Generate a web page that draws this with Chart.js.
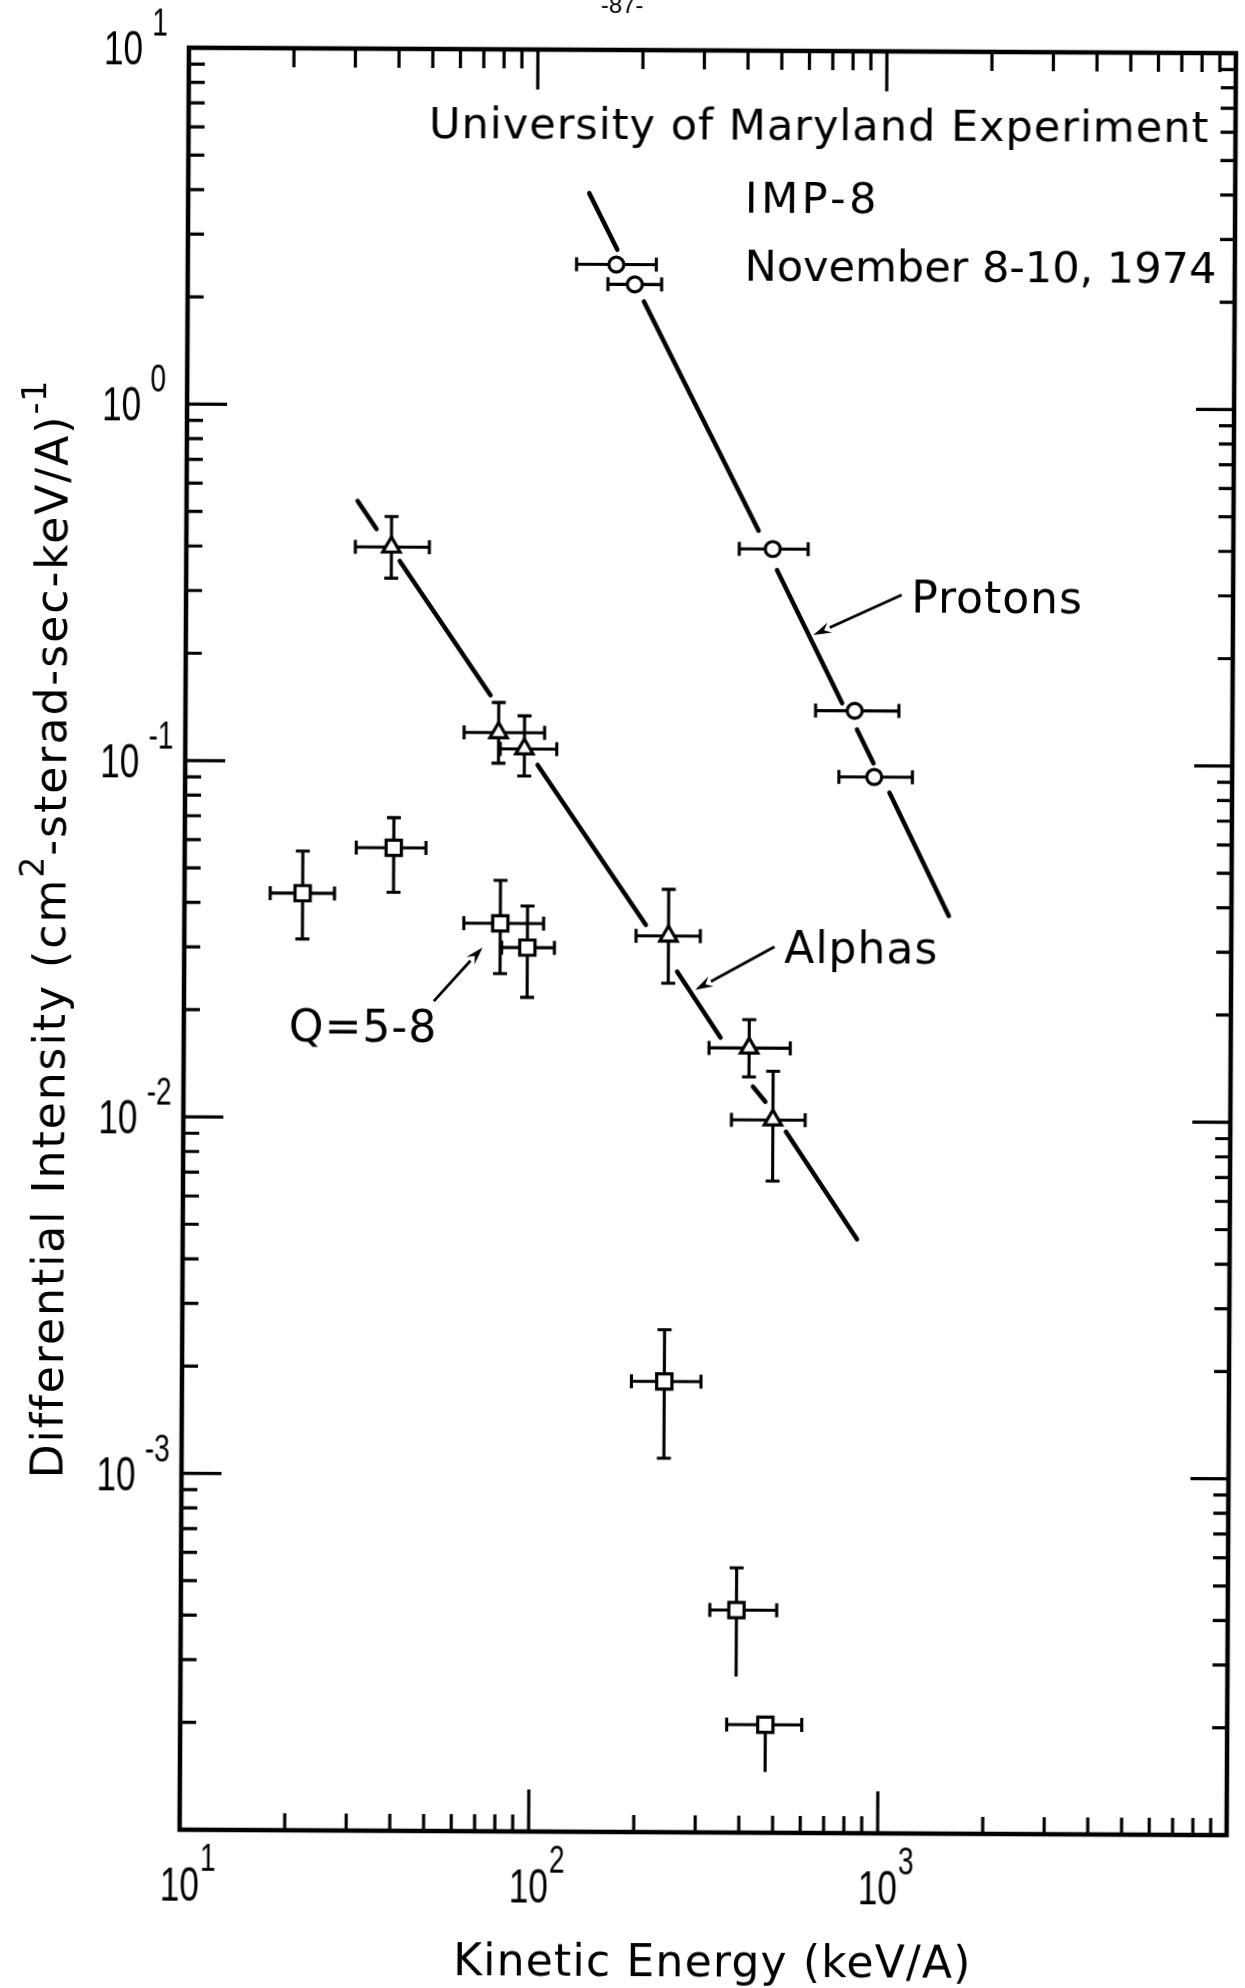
<!DOCTYPE html>
<html>
<head>
<meta charset="utf-8">
<script src="https://cdn.jsdelivr.net/npm/chart.js@4.4.1/dist/chart.umd.min.js"></script>
<style>
  html, body { margin: 0; padding: 0; background: #fff; }
  #wrap { width: 1245px; height: 1988px; overflow: hidden; position: relative; background: #fff; }
  #c { display: block; transform: rotate(0.3deg); transform-origin: 622.5px 994px; }
</style>
</head>
<body>
<div id="wrap"><canvas id="c" width="1245" height="1988"></canvas></div>
<script>
// ---------------- data ----------------
// Protons (circles): kinetic energy (keV/A), intensity, energy bin edges
const protonEnergy    = [169, 191, 479, 827, 943];
const protonIntensity = [2.5, 2.2, 0.40, 0.141, 0.092];
const protonEnergyLo  = [130, 160, 384, 639, 747];
const protonEnergyHi  = [220, 228, 605, 1107, 1213];

// Alphas (triangles)
const alphaEnergy      = [38.7, 79, 93.7, 244, 417, 489];
const alphaIntensity   = [0.40, 0.121, 0.109, 0.0327, 0.0159, 0.0100];
const alphaEnergyLo    = [30.5, 62.9, 79.9, 197, 320, 372];
const alphaEnergyHi    = [49.7, 107, 116, 301, 547, 605];
const alphaIntensityLo = [0.327, 0.0993, 0.0915, 0.0241, 0.0132, 0.00674];
const alphaIntensityHi = [0.487, 0.147, 0.135, 0.0442, 0.0191, 0.0137];

// Q = 5-8 ions (squares)
const heavyEnergy      = [21.8, 39.7, 80.4, 96.2, 241, 391, 475];
const heavyIntensity   = [0.0426, 0.0573, 0.0353, 0.0302, 0.00184, 0.000421, 0.000201];
const heavyEnergyLo    = [17.6, 31.0, 63.2, 81.2, 194, 328, 368];
const heavyEnergyHi    = [26.9, 49.1, 107, 115, 307, 510, 604];
const heavyIntensityLo = [0.0317, 0.0430, 0.0255, 0.0219, 0.00112, 0.000274, 0.000148];
const heavyIntensityHi = [0.0559, 0.0696, 0.0466, 0.0395, 0.00257, 0.000553, null];
const heavyLowCap      = [true, true, true, true, true, false, false];

// Power-law fits, drawn as broken segments [x1, y1, x2, y2]
const protonFitSegments = [[141, 3.96, 170, 2.75], [203, 1.97, 436, 0.450], [493, 0.349, 761, 0.148],
                           [840, 0.125, 938, 0.1005], [1043, 0.0832, 1550, 0.0376]];
const alphaFitSegments  = [[30.9, 0.538, 35.05, 0.449], [40.9, 0.3655, 74.8, 0.154], [102.3, 0.0983, 210, 0.0351],
                           [258.5, 0.026, 345, 0.0170], [428, 0.0124, 465, 0.01125], [533, 0.00928, 855, 0.00464]];

// Labels with pointer arrows
const seriesLabels   = ['Protons', 'Alphas', 'Q=5-8'];
const seriesLabelAt  = [[1196, 0.2675], [524, 0.0276], [20.0, 0.0164]];
const arrowTails     = [[1123, 0.2985], [491, 0.0306], [52.0, 0.0213]];
const arrowHeads     = [[628, 0.2298], [291.5, 0.0231], [71.6, 0.0302]];

// Header block
const headerLines   = ['University of Maryland Experiment', 'IMP-8', 'November 8-10, 1974'];
const headerAt      = [[8414, 5.63], [394, 3.50], [394, 2.27]];
const headerAlign   = ['right', 'left', 'left'];
const headerSpacing = ['1px', '3.5px', '0px'];

// Axes
const xRange = [10, 10000];
const yRange = [1e-4, 10];
const xDecades = [10, 100, 1000];
const yDecades = [1e-4, 1e-3, 1e-2, 1e-1, 1];
const tickMantissas = [1, 2, 3, 4, 5, 6, 7, 8, 9];
const xTickValues = [10, 100, 1000];
const xTickExponents = ['1', '2', '3'];
const yTickValues = [10, 1, 0.1, 0.01, 0.001];
const yTickExponents = ['1', '0', '-1', '-2', '-3'];
const xTitle = 'Kinetic Energy (keV/A)';
const yTitleParts = [['Differential Intensity (cm', false], ['2', true], ['-sterad-sec-keV/A)', false], ['-1', true]];
const pageMark = '-87-';

// ---------------- helpers ----------------
const WORD_FONT = '"DejaVu Sans", "Liberation Sans", sans-serif';
const NUM_FONT = '"Liberation Sans", "DejaVu Sans", sans-serif';

function toPoints(xs, ys) { return xs.map((x, i) => ({ x: x, y: ys[i] })); }
function segmentsToPoints(segs) {
  const pts = [];
  segs.forEach((s, i) => {
    if (i > 0) pts.push({ x: s[0], y: null });
    pts.push({ x: s[0], y: s[1] });
    pts.push({ x: s[2], y: s[3] });
  });
  return pts;
}

function drawText(ctx, str, px, py, opt) {
  ctx.save();
  ctx.font = opt.font;
  ctx.letterSpacing = opt.spacing || '0px';
  ctx.textAlign = 'left';
  ctx.textBaseline = 'alphabetic';
  ctx.fillStyle = '#000';
  const sx = opt.sx || 1;
  const w = ctx.measureText(str).width * sx;
  let x0 = px;
  if (opt.align === 'right') x0 = px - w;
  else if (opt.align === 'center') x0 = px - w / 2;
  ctx.translate(x0, py);
  ctx.scale(sx, 1);
  ctx.fillText(str, 0, 0);
  ctx.restore();
  return w;
}

function textWidth(ctx, str, opt) {
  ctx.save();
  ctx.font = opt.font;
  ctx.letterSpacing = opt.spacing || '0px';
  const w = ctx.measureText(str).width * (opt.sx || 1);
  ctx.restore();
  return w;
}

// ---------------- plugins ----------------
const errorSets = [
  { xs: protonEnergy, ys: protonIntensity, xLo: protonEnergyLo, xHi: protonEnergyHi, yLo: null, yHi: null, lowCap: null },
  { xs: alphaEnergy, ys: alphaIntensity, xLo: alphaEnergyLo, xHi: alphaEnergyHi, yLo: alphaIntensityLo, yHi: alphaIntensityHi, lowCap: null },
  { xs: heavyEnergy, ys: heavyIntensity, xLo: heavyEnergyLo, xHi: heavyEnergyHi, yLo: heavyIntensityLo, yHi: heavyIntensityHi, lowCap: heavyLowCap }
];

const errorBars = {
  id: 'errorBars',
  beforeDatasetsDraw(chart) {
    const { ctx, scales: { x, y } } = chart;
    const cap = 7;
    ctx.save();
    ctx.strokeStyle = '#000';
    ctx.lineWidth = 3.1;
    ctx.lineCap = 'butt';
    errorSets.forEach(set => {
      set.xs.forEach((xv, i) => {
        const px = x.getPixelForValue(xv);
        const py = y.getPixelForValue(set.ys[i]);
        const xl = x.getPixelForValue(set.xLo[i]);
        const xh = x.getPixelForValue(set.xHi[i]);
        ctx.beginPath();
        ctx.moveTo(xl, py); ctx.lineTo(xh, py);
        ctx.moveTo(xl, py - cap); ctx.lineTo(xl, py + cap);
        ctx.moveTo(xh, py - cap); ctx.lineTo(xh, py + cap);
        if (set.yHi && set.yHi[i] != null) {
          const yh = y.getPixelForValue(set.yHi[i]);
          ctx.moveTo(px, py); ctx.lineTo(px, yh);
          ctx.moveTo(px - cap, yh); ctx.lineTo(px + cap, yh);
        }
        if (set.yLo && set.yLo[i] != null) {
          const yl = y.getPixelForValue(set.yLo[i]);
          ctx.moveTo(px, py); ctx.lineTo(px, yl);
          if (!set.lowCap || set.lowCap[i]) {
            ctx.moveTo(px - cap, yl); ctx.lineTo(px + cap, yl);
          }
        }
        ctx.stroke();
      });
    });
    ctx.restore();
  }
};

const frameAndTicks = {
  id: 'frameAndTicks',
  afterDatasetsDraw(chart) {
    const { ctx, chartArea: a, scales: { x, y } } = chart;
    ctx.save();
    ctx.strokeStyle = '#000';
    ctx.lineCap = 'butt';
    ctx.lineWidth = 3.2;
    ctx.beginPath();
    xDecades.forEach(d => tickMantissas.forEach(m => {
      const v = d * m;
      if (v <= xRange[0] || v >= xRange[1]) return;
      const px = x.getPixelForValue(v);
      const major = m === 1;
      ctx.moveTo(px, a.bottom); ctx.lineTo(px, a.bottom - (major ? 42 : 17));
      ctx.moveTo(px, a.top); ctx.lineTo(px, a.top + (major ? 40 : 19));
    }));
    yDecades.forEach(d => tickMantissas.forEach(m => {
      const v = d * m;
      if (v <= yRange[0] * 1.0001 || v >= yRange[1] * 0.9999) return;
      const py = y.getPixelForValue(v);
      const major = m === 1;
      ctx.moveTo(a.left, py); ctx.lineTo(a.left + (major ? 40 : 16), py);
      ctx.moveTo(a.right, py); ctx.lineTo(a.right - (major ? 38 : 15), py);
    }));
    ctx.stroke();
    ctx.lineWidth = 4.5;
    ctx.strokeRect(a.left, a.top, a.right - a.left, a.bottom - a.top);
    ctx.restore();
  }
};

const arrowsAndText = {
  id: 'arrowsAndText',
  afterDraw(chart) {
    const { ctx, chartArea: a, scales: { x, y } } = chart;

    // pointer arrows
    ctx.save();
    ctx.strokeStyle = '#000';
    ctx.fillStyle = '#000';
    ctx.lineWidth = 2.8;
    arrowTails.forEach((t, i) => {
      const x1 = x.getPixelForValue(t[0]), y1 = y.getPixelForValue(t[1]);
      const x2 = x.getPixelForValue(arrowHeads[i][0]), y2 = y.getPixelForValue(arrowHeads[i][1]);
      const ang = Math.atan2(y2 - y1, x2 - x1);
      const L = 18, W = 5.5;
      const bx = x2 - L * Math.cos(ang), by = y2 - L * Math.sin(ang);
      ctx.beginPath();
      ctx.moveTo(x1, y1); ctx.lineTo(bx, by);
      ctx.stroke();
      ctx.beginPath();
      ctx.moveTo(x2, y2);
      ctx.lineTo(bx + W * Math.sin(ang), by - W * Math.cos(ang));
      ctx.lineTo(bx + 0.35 * L * Math.cos(ang), by + 0.35 * L * Math.sin(ang));
      ctx.lineTo(bx - W * Math.sin(ang), by + W * Math.cos(ang));
      ctx.closePath();
      ctx.fill();
    });
    ctx.restore();

    // header
    headerLines.forEach((s, i) => {
      drawText(ctx, s, x.getPixelForValue(headerAt[i][0]), y.getPixelForValue(headerAt[i][1]),
               { font: '43px ' + WORD_FONT, spacing: headerSpacing[i], align: headerAlign[i] });
    });

    // series labels
    const word = { font: '44px ' + WORD_FONT, spacing: '1px' };
    seriesLabels.forEach((s, i) => {
      drawText(ctx, s, x.getPixelForValue(seriesLabelAt[i][0]), y.getPixelForValue(seriesLabelAt[i][1]), word);
    });

    // tick labels
    const base = { font: '49px ' + NUM_FONT, sx: 0.72 };
    const expo = { font: '38px ' + NUM_FONT, sx: 0.74 };
    xTickValues.forEach((v, i) => {
      const px = x.getPixelForValue(v);
      const w = drawText(ctx, '10', px, a.bottom + 71, Object.assign({ align: 'center' }, base));
      drawText(ctx, xTickExponents[i], px + w / 2 + 1, a.bottom + 41, expo);
    });
    yTickValues.forEach((v, i) => {
      const py = y.getPixelForValue(v);
      const left = a.left - 85;
      const w = drawText(ctx, '10', left, py + 17, base);
      drawText(ctx, yTickExponents[i], left + w + 9, py - 12, expo);
    });

    // axis titles
    const titleFont = { font: '44px ' + WORD_FONT, spacing: '1.2px' };
    drawText(ctx, xTitle, (a.left + a.right) / 2 + 10, 1976, Object.assign({ align: 'center' }, titleFont));

    const yFont = { font: '44px ' + WORD_FONT, spacing: '2px' };
    const supFont = { font: '33px ' + WORD_FONT, spacing: '1px' };
    let total = 0;
    yTitleParts.forEach(p => { total += textWidth(ctx, p[0], p[1] ? supFont : yFont); });
    ctx.save();
    ctx.translate(65, 932);
    ctx.rotate(-Math.PI / 2);
    let cx = -total / 2;
    yTitleParts.forEach(p => {
      cx += drawText(ctx, p[0], cx, p[1] ? -22 : 0, p[1] ? supFont : yFont);
    });
    ctx.restore();

    // page number at the top edge
    drawText(ctx, pageMark, 617, 13, { font: '24px ' + NUM_FONT, align: 'center' });
  }
};

// ---------------- chart ----------------
const ctx = document.getElementById('c').getContext('2d');
new Chart(ctx, {
  type: 'scatter',
  data: {
    datasets: [
      { label: 'Protons', data: toPoints(protonEnergy, protonIntensity), pointStyle: 'circle', pointRadius: 7.5,
        pointBorderWidth: 3.2, pointBorderColor: '#000', pointBackgroundColor: '#fff' },
      { label: 'Alphas', data: toPoints(alphaEnergy, alphaIntensity), pointStyle: 'triangle', pointRadius: 10,
        pointBorderWidth: 3.2, pointBorderColor: '#000', pointBackgroundColor: '#fff' },
      { label: 'Q=5-8', data: toPoints(heavyEnergy, heavyIntensity), pointStyle: 'rect', pointRadius: 10.8,
        pointBorderWidth: 3.2, pointBorderColor: '#000', pointBackgroundColor: '#fff' },
      { label: 'Proton fit', type: 'line', data: segmentsToPoints(protonFitSegments), showLine: true,
        pointRadius: 0, borderWidth: 4.5, borderColor: '#000', borderCapStyle: 'round', spanGaps: false, fill: false },
      { label: 'Alpha fit', type: 'line', data: segmentsToPoints(alphaFitSegments), showLine: true,
        pointRadius: 0, borderWidth: 4.5, borderColor: '#000', borderCapStyle: 'round', spanGaps: false, fill: false }
    ]
  },
  options: {
    responsive: false,
    animation: false,
    devicePixelRatio: 1,
    events: [],
    layout: { padding: { left: 184, right: 4, top: 50, bottom: 156 } },
    scales: {
      x: { type: 'logarithmic', min: xRange[0], max: xRange[1], display: false },
      y: { type: 'logarithmic', min: yRange[0], max: yRange[1], display: false }
    },
    plugins: { legend: { display: false }, tooltip: { enabled: false }, title: { display: false } }
  },
  plugins: [errorBars, frameAndTicks, arrowsAndText]
});
</script>
</body>
</html>
